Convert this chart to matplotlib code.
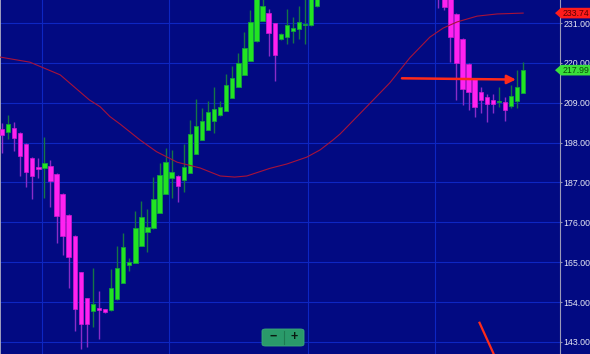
import matplotlib
matplotlib.use("Agg")
import matplotlib.pyplot as plt
import matplotlib.patches as mpatches
import matplotlib.transforms as mtransforms
import numpy as np

plt.rcParams['font.family'] = ['Liberation Sans', 'DejaVu Sans']

# OHLC (candles 53-71 sit above the visible range)
opens = [201.7, 200.9, 202.0, 200.6, 197.6, 193.7, 191.2, 191.1, 191.6, 189.3,
         183.7, 178.0, 172.2, 162.2, 155.0, 151.5, 152.4, 152.0, 151.7, 154.8,
         159.3, 164.2, 164.7, 169.5, 173.4, 174.4, 178.5, 183.7, 188.3, 188.9,
         187.6, 189.7, 194.8, 198.7, 201.5, 204.0, 205.7, 206.8, 210.4, 213.3,
         216.6, 220.5, 226.0, 231.6, 233.7, 230.9, 226.5, 227.2, 228.8, 229.3,
         230.4, 230.5, 235.8, 241.0, 245.0, 247.0, 250.0, 248.0, 253.0, 255.0,
         251.0, 254.0, 258.0, 255.0, 252.0, 255.0, 256.0, 252.0, 248.0, 250.0,
         246.0, 244.0, 243.0, 240.0, 237.5, 233.5, 226.5, 219.7, 215.7, 211.9,
         210.7, 209.8, 209.1, 209.3, 208.2, 209.6, 211.6]
highs = [203.4, 205.6, 203.7, 201.0, 197.8, 193.9, 193.8, 199.6, 193.2, 189.5,
         184.0, 178.2, 172.4, 162.4, 155.2, 163.3, 157.0, 152.2, 163.0, 169.5,
         173.0, 166.1, 179.1, 181.9, 179.6, 188.6, 192.3, 196.4, 196.0, 189.0,
         197.5, 204.2, 210.0, 207.6, 209.5, 213.3, 209.5, 216.9, 219.1, 222.6,
         228.6, 234.6, 241.0, 238.0, 234.9, 231.0, 228.3, 234.9, 232.6, 235.7,
         238.0, 242.0, 243.0, 246.0, 249.0, 252.0, 251.0, 254.0, 257.0, 256.0,
         255.0, 259.0, 260.0, 257.0, 256.0, 258.0, 257.0, 253.0, 251.0, 251.0,
         248.0, 245.0, 244.0, 242.0, 239.0, 233.8, 226.8, 220.0, 215.8, 213.4,
         211.4, 211.3, 213.3, 210.7, 213.9, 218.0, 220.3]
lows = [195.1, 199.0, 195.8, 188.9, 185.8, 182.4, 188.2, 182.8, 180.3, 170.2,
        167.0, 157.8, 146.1, 141.1, 141.7, 147.0, 143.7, 151.0, 151.5, 154.6,
        159.2, 162.6, 164.7, 169.5, 167.9, 174.3, 178.5, 183.7, 182.8, 181.7,
        184.3, 189.7, 194.8, 198.7, 201.5, 200.7, 205.4, 206.8, 210.2, 213.3,
        216.6, 220.5, 225.8, 231.6, 222.0, 215.1, 226.3, 225.1, 225.4, 226.6,
        225.1, 230.3, 235.5, 239.0, 243.0, 245.0, 246.0, 247.0, 251.0, 250.0,
        249.0, 252.0, 254.0, 251.0, 250.0, 253.0, 251.0, 247.0, 246.0, 245.0,
        243.0, 240.0, 235.1, 234.5, 220.3, 209.8, 208.4, 207.0, 205.2, 206.1,
        203.8, 206.1, 207.9, 204.0, 207.5, 207.5, 211.6]
closes = [200.1, 203.1, 199.2, 194.4, 190.0, 188.8, 190.8, 192.3, 187.4, 177.8,
          172.3, 166.4, 152.2, 148.0, 147.9, 153.4, 151.9, 151.2, 157.8, 163.5,
          169.3, 165.1, 174.4, 177.4, 174.8, 182.5, 189.1, 192.6, 190.0, 185.9,
          191.4, 200.3, 202.7, 204.0, 206.5, 207.3, 207.7, 213.9, 215.8, 220.0,
          224.1, 231.2, 239.0, 235.8, 228.2, 222.1, 228.0, 230.5, 229.5, 231.2,
          230.6, 240.0, 241.0, 245.0, 247.0, 250.0, 248.0, 253.0, 255.0, 251.0,
          254.0, 258.0, 255.0, 252.0, 255.0, 256.0, 252.0, 248.0, 250.0, 246.0,
          244.0, 241.0, 239.0, 235.3, 227.1, 219.9, 212.7, 212.0, 207.9, 209.8,
          208.7, 208.6, 209.6, 207.0, 210.9, 213.3, 217.99]

# moving average line, read at a few candle positions
ma_idx = [-0.3, 4.6, 9.6, 14.4, 16.2, 17.8, 19.5, 22.8, 25.5, 28.9, 32.7, 36.0,
          38.4, 40.4, 44.2, 47.0, 50.3, 52.5, 54.6, 55.8, 60.0, 64.0, 67.3,
          70.6, 72.8, 75.1, 78.4, 81.7, 86.0]
ma_val = [221.6, 220.2, 216.7, 209.8, 207.9, 205.2, 203.1, 198.7, 195.5, 192.6,
          191.0, 188.8, 188.5, 188.8, 190.9, 192.1, 194.0, 196.0, 198.7, 200.4,
          207.6, 214.5, 221.4, 227.1, 229.6, 231.3, 232.9, 233.5, 233.74]

price_ticks = [143, 154, 165, 176, 187, 198, 209, 220, 231]
date_grid = [6.6, 27.56, 50.5, 71.45]

arrow_start = (66.0, 215.75)
arrow_end = (84.8, 215.4)
trend_x = [78.8, 82.0]
trend_y = [148.3, 136.5]

bg = '#020a82'
grid_c = '#0d26c2'
up_body, up_wick, up_edge = '#22e422', '#157545', '#12a040'
dn_body, dn_wick = '#ff22f0', '#8a2cc8'

fig = plt.figure(figsize=(5.9, 3.54), dpi=100, facecolor=bg)
ax = fig.add_axes([0, 0, 560 / 590, 1])
ax.set_facecolor(bg)

n = len(opens)
xs = np.arange(n)
o = np.array(opens)
c = np.array(closes)
up = c >= o

ax.vlines(xs[up], np.array(lows)[up], np.array(highs)[up], color=up_wick, lw=1, zorder=3)
ax.vlines(xs[~up], np.array(lows)[~up], np.array(highs)[~up], color=dn_wick, lw=1, zorder=3)
bottoms = np.minimum(o, c)
heights = np.maximum(np.abs(c - o), 0.45)
ax.bar(xs[up], heights[up], bottom=bottoms[up], width=0.72,
       color=up_body, edgecolor=up_edge, linewidth=0.6, zorder=4)
ax.bar(xs[~up], heights[~up], bottom=bottoms[~up], width=0.72,
       color=dn_body, edgecolor='#d018d0', linewidth=0.5, zorder=4)

ax.plot(ma_idx, ma_val, color='#a8123a', lw=0.8, zorder=5)

ax.annotate('', xy=arrow_end, xytext=arrow_start, zorder=6,
            arrowprops=dict(arrowstyle='-|>', color='#ff2a1a', lw=1.8,
                            mutation_scale=13, shrinkA=0, shrinkB=0))
ax.plot(trend_x, trend_y, color='#ff2a1a', lw=1.6, zorder=6)

ax.set_xlim(-0.33, 92.08)
ax.set_ylim(139.68, 237.35)

ax.set_yticks(price_ticks)
ax.set_xticks(date_grid)
ax.yaxis.tick_right()
ax.tick_params(axis='y', length=1.5, color='#9090b0', labelsize=6.3,
               labelcolor='#e8e8f4', pad=1)
ax.tick_params(axis='x', length=0, labelbottom=False)
ax.yaxis.set_major_formatter(matplotlib.ticker.FormatStrFormatter('%.2f'))
ax.grid(True, color=grid_c, lw=0.8, zorder=0)
ax.set_axisbelow(True)
for s in ['top', 'bottom']:
    ax.spines[s].set_visible(False)
ax.spines['right'].set_color('#9a9ab8')
ax.spines['left'].set_color('#b8b8c8')
ax.spines['left'].set_linewidth(1.2)

# price tags on the right axis
trans = mtransforms.blended_transform_factory(ax.transAxes, ax.transData)
h = 5.3 * (237.35 - 139.68) / 354
for val, fill, txt in [(ma_val[-1], '#ff1c1c', '#5a0000'),
                       (closes[-1], '#3ae03a', '#0a4a0a')]:
    pts = [(555 / 560, val), (561 / 560, val + h), (1.06, val + h),
           (1.06, val - h), (561 / 560, val - h)]
    ax.add_patch(mpatches.Polygon(pts, closed=True, transform=trans,
                                  facecolor=fill, edgecolor='none',
                                  clip_on=False, zorder=10))
    ax.text(563 / 560, val, '%.2f' % val, transform=trans, fontsize=6.3,
            color=txt, va='center', ha='left', clip_on=False, zorder=11)

# zoom buttons
fig.patches.append(mpatches.FancyBboxPatch(
    (262 / 590, 8 / 354), 42 / 590, 17 / 354,
    boxstyle='round,pad=0,rounding_size=0.006', transform=fig.transFigure,
    facecolor='#2a9a6a', edgecolor='#3aaa7a', lw=0.6))
fig.lines.append(plt.Line2D([284 / 590, 284 / 590], [10 / 354, 23 / 354],
                            transform=fig.transFigure, color='#1e7a52', lw=0.8))
fig.text(273 / 590, 17 / 354, '\u2212', fontsize=9, fontweight='bold',
         color='#0a1a10', ha='center', va='center')
fig.text(294 / 590, 17 / 354, '+', fontsize=9, fontweight='bold',
         color='#0a1a10', ha='center', va='center')

fig.savefig('out.png', dpi=100, facecolor=bg)
